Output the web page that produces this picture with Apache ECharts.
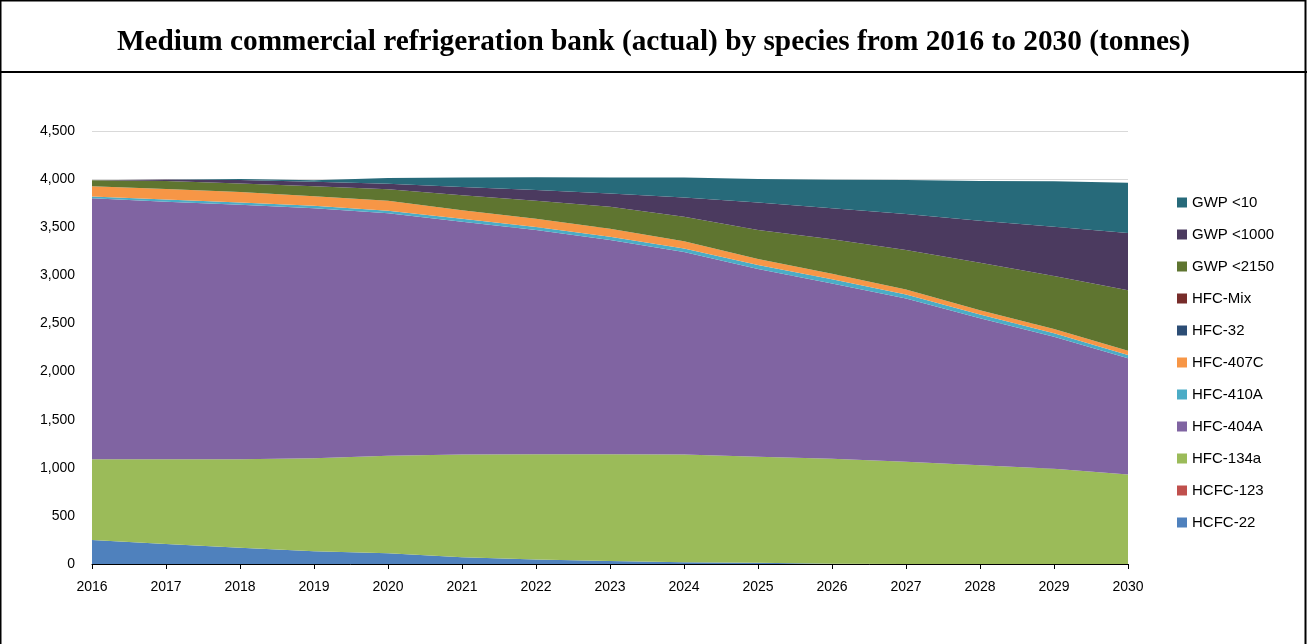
<!DOCTYPE html>
<html>
<head>
<meta charset="utf-8">
<script src="https://cdn.jsdelivr.net/npm/echarts@6/dist/echarts.min.js"></script>
<style>
html,body{margin:0;padding:0;background:#fff;}
#chart{width:1307px;height:644px;}
</style>
</head>
<body>
<div id="chart"></div>
<script>
var years = ['2016','2017','2018','2019','2020','2021','2022','2023','2024','2025','2026','2027','2028','2029','2030'];
var yTicks = [0,500,1000,1500,2000,2500,3000,3500,4000,4500];

var hcfc22   = [250,208,170,132,111,69,48,31,17,14,3,0,0,0,0];
var hcfc123  = [0,0,0,0,0,0,0,0,0,0,0,0,0,0,0];
var hfc134a  = [838,880,918,968,1014,1069,1092,1109,1121,1101,1092,1062,1025,990,930];
var hfc404a  = [2712,2677,2645,2596,2519,2419,2330,2226,2104,1950,1821,1698,1528,1372,1207];
var hfc410a  = [20,22,25,27,28,30,32,35,38,42,44,42,40,36,34];
var hfc407c  = [107,111,107,100,104,90,87,83,73,62,56,52,45,45,44];
var hfc32    = [0,0,0,0,0,0,0,0,0,0,0,0,0,0,0];
var hfcMix   = [0,0,0,0,0,0,0,0,0,0,0,0,0,0,0];
var gwp2150  = [60,83,90,104,118,156,187,229,257,301,360,408,492,550,631];
var gwp1000  = [0,15,35,45,58,86,111,138,200,288,322,375,436,513,595];
var gwp10    = [0,0,10,15,60,98,132,167,208,242,295,353,415,471,520];

var seriesNames = ['HCFC-22','HCFC-123','HFC-134a','HFC-404A','HFC-410A','HFC-407C','HFC-32','HFC-Mix','GWP <2150','GWP <1000','GWP <10'];
var seriesData = [hcfc22,hcfc123,hfc134a,hfc404a,hfc410a,hfc407c,hfc32,hfcMix,gwp2150,gwp1000,gwp10];
var colors = ['#4f81bd','#c0504d','#9bbb59','#8064a2','#4bacc6','#f79646','#2c4d75','#772c2a','#5f7530','#4b3a5f','#276a7a'];

var chart = echarts.init(document.getElementById('chart'));
var series = seriesNames.map(function(n,i){
  return {
    name:n, type:'line', stack:'total', data:seriesData[i],
    showSymbol:false, symbol:'none',
    lineStyle:{width:0}, areaStyle:{color:colors[i],opacity:1},
    itemStyle:{color:colors[i]}, silent:true
  };
});
chart.setOption({
  animation:false,
  backgroundColor:'#fff',
  title:{
    text:'Medium commercial refrigeration bank (actual) by species from 2016 to 2030 (tonnes)',
    left:'center', top:23,
    textStyle:{fontFamily:'Liberation Serif',fontWeight:'bold',fontSize:29.3,color:'#000'}
  },
  graphic:[
    {type:'rect',shape:{x:0.5,y:0.5,width:1305,height:660},style:{fill:'none',stroke:'#000',lineWidth:2},silent:true},
    {type:'line',shape:{x1:0,y1:72,x2:1307,y2:72},style:{stroke:'#000',lineWidth:2},silent:true}
  ],
  legend:{
    orient:'vertical', left:1172, top:189,
    itemWidth:10, itemHeight:10, itemGap:15, itemTextGap:5, icon:'rect',
    data:seriesNames.slice().reverse(),
    textStyle:{fontFamily:'Liberation Sans',fontSize:15,color:'#000',lineHeight:17}
  },
  grid:{left:92,right:179,top:131,bottom:80,containLabel:false},
  xAxis:{
    type:'category', data:years, boundaryGap:false,
    axisLine:{lineStyle:{color:'#000',width:1}},
    axisTick:{show:true,alignWithLabel:true,length:5,lineStyle:{color:'#000'}},
    axisLabel:{fontFamily:'Liberation Sans',fontSize:14,color:'#000',margin:16}
  },
  yAxis:{
    type:'value', min:yTicks[0], max:yTicks[yTicks.length-1], interval:500,
    axisLine:{show:false}, axisTick:{show:false},
    splitLine:{lineStyle:{color:'#d9d9d9',width:1}},
    axisLabel:{fontFamily:'Liberation Sans',fontSize:14,color:'#000',margin:17,
      formatter:function(v){return v.toLocaleString('en-US');}}
  },
  series:series
});
</script>
</body>
</html>
